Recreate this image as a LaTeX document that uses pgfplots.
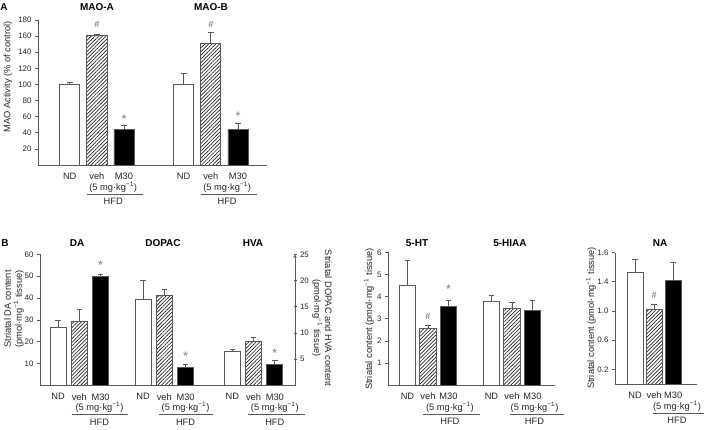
\documentclass[border=0pt]{standalone}
\usepackage{pgfplots}
\pgfplotsset{compat=1.18}
\usepackage{fontspec}
\setmainfont{Liberation Sans}
\usetikzlibrary{patterns.meta}
\definecolor{ink}{gray}{0.15}
\definecolor{edge}{gray}{0.35}
\newcommand{\tk}{\fontsize{7.9}{8}\selectfont}
\newcommand{\lb}{\fontsize{9.3}{11}\selectfont}
\newcommand{\ttl}{\bfseries\fontsize{10}{11}\selectfont}
\newcommand{\dose}{(5 mg·kg\textsuperscript{−1})}
\tikzset{sig/.style={font=\fontsize{9}{9}\selectfont, text=black!60},
         star/.style={font=\fontsize{12.5}{12}\selectfont, text=black!50, yshift=-2.5pt}}
\pgfplotsset{
  panel/.style={
    scale only axis, anchor=south west, clip=false,
    axis x line=bottom, axis y line=left,
    axis line style={-, edge, line width=0.7pt},
    ymin=0,
    ybar, bar width=#1, /pgf/bar shift=0pt,
    tick align=outside, major tick length=3pt,
    ytick style={edge, line width=0.6pt},
    xtick style={draw=none},
    /pgf/number format/assume math mode=true,
    yticklabel style={font=\tk, text=ink},
    xticklabel style={font=\lb, text=ink, yshift=-1.5pt},
    error bars/y dir=plus, error bars/y explicit,
    error bars/error bar style={edge, line width=0.8pt},
    error bars/error mark options={rotate=90, mark size=2.8pt, edge, line width=0.8pt},
  },
  nd/.style={draw=edge, line width=0.8pt, fill=white},
  veh/.style={draw=edge, line width=0.8pt, fill=white,
    postaction={pattern={Lines[angle=45, distance=2.6pt, line width=0.7pt]}, pattern color=black!85}},
  m30/.style={draw=edge, line width=0.8pt, fill=black},
}
\newcommand{\hfd}[3]{%
  \node[font=\lb, text=ink] at ([yshift=-22pt]axis cs:#3,0) {\dose};
  \draw[edge, line width=0.7pt] ([yshift=-29pt]axis cs:#1,0) -- ([yshift=-29pt]axis cs:#2,0);
  \node[font=\lb, text=ink] at ([yshift=-36.5pt]axis cs:#3,0) {HFD};
}
\begin{document}
\begin{tikzpicture}
\path[use as bounding box] (0,0) rectangle (708pt,429pt);

% ---------------- Panel A ----------------
\begin{axis}[panel=0.74, at={(38pt,264pt)}, width=229pt, height=145pt,
  xmin=-1.17, xmax=7.27, ymax=180, ytick={20,40,...,180},
  xtick={0,1,2,4.2,5.2,6.2}, xticklabels={ND,veh,M30,ND,veh,M30}]
\addplot[nd] coordinates {(0,100) +- (0,3) (4.2,100) +- (0,13.5)};
\addplot[veh] coordinates {(1,161) +- (0,1) (5.2,151) +- (0,13)};
\addplot[m30] coordinates {(2,44.5) +- (0,5) (6.2,44) +- (0,8)};
\node[sig] at (axis cs:1,174) {\#};
\node[sig] at (axis cs:5.2,174) {\#};
\node[star] at (axis cs:2,60) {*};
\node[star] at (axis cs:6.2,64) {*};
\hfd{0.65}{2.7}{1.6}
\hfd{4.85}{6.9}{5.8}
\end{axis}
\node[font=\ttl] at (4pt,422pt) {A};
\node[font=\ttl] at (97pt,422pt) {MAO-A};
\node[font=\ttl] at (211pt,422pt) {MAO-B};
\node[font=\lb, text=ink, rotate=90] at (8pt,352pt) {MAO Activity (\% of control)};

% ---------------- Panel B: DA (left axis) ----------------
\begin{axis}[panel=0.75, at={(40pt,43.5pt)}, width=255pt, height=131.2pt,
  xmin=-0.85, xmax=11.15, ymax=60, ytick={10,20,...,60},
  xtick={0,1,2,4,5,6,8.2,9.2,10.2},
  xticklabels={ND,veh,M30,ND,veh,M30,ND,veh,M30}]
\addplot[nd] coordinates {(0,26.6) +- (0,3.0)};
\addplot[veh] coordinates {(1,29.2) +- (0,5.8)};
\addplot[m30] coordinates {(2,49.7) +- (0,1.1)};
\node[star] at (axis cs:2,56) {*};
\hfd{0.64}{3.28}{1.95}
\hfd{4.75}{7.3}{6.0}
\hfd{8.95}{11.6}{10.2}
\end{axis}
% ---------------- Panel B: DOPAC, HVA (right axis) ----------------
\begin{axis}[panel=0.75, at={(40pt,43.5pt)}, width=255pt, height=131.2pt,
  axis x line=none, axis y line=right,
  xmin=-0.85, xmax=11.15, ymax=25, ytick={5,10,...,25}, xtick=\empty]
\addplot[nd] coordinates {(4,16.4) +- (0,3.7) (8.2,6.45) +- (0,0.5)};
\addplot[veh] coordinates {(5,17.1) +- (0,1.2) (9.2,8.35) +- (0,0.85)};
\addplot[m30] coordinates {(6,3.45) +- (0,0.65) (10.2,4.0) +- (0,0.85)};
\node[star] at (axis cs:6,6.0) {*};
\node[star] at (axis cs:10.2,6.6) {*};
\end{axis}
\node[font=\ttl] at (5pt,186pt) {B};
\node[font=\ttl] at (77pt,186pt) {DA};
\node[font=\ttl] at (163pt,186pt) {DOPAC};
\node[font=\ttl] at (253pt,186pt) {HVA};
\node[font=\lb, text=ink, rotate=90, align=center] at (14pt,120pt)
  {Striatal DA content\\(pmol·mg\textsuperscript{−1} tissue)};
\node[font=\lb, text=ink, rotate=-90, align=center] at (322pt,111pt)
  {Striatal DOPAC and HVA content\\(pmol·mg\textsuperscript{−1} tissue)};

% ---------------- Panel 5-HT / 5-HIAA ----------------
\begin{axis}[panel=0.8, at={(388pt,44pt)}, width=167pt, height=132.6pt,
  xmin=-0.95, xmax=7.2, ymax=6, ytick={1,...,6},
  xtick={0,1,2,4.1,5.1,6.1}, xticklabels={ND,veh,M30,ND,veh,M30}]
\addplot[nd] coordinates {(0,4.52) +- (0,1.1) (4.1,3.80) +- (0,0.24)};
\addplot[veh] coordinates {(1,2.56) +- (0,0.15) (5.1,3.47) +- (0,0.27)};
\addplot[m30] coordinates {(2,3.57) +- (0,0.27) (6.1,3.39) +- (0,0.45)};
\node[sig] at (axis cs:1,3.12) {\#};
\node[star] at (axis cs:2,4.45) {*};
\hfd{0.74}{3.54}{2.07}
\hfd{4.98}{7.65}{6.2}
\end{axis}
\node[font=\ttl] at (417pt,186pt) {5-HT};
\node[font=\ttl] at (510pt,186pt) {5-HIAA};
\node[font=\lb, text=ink, rotate=90] at (369pt,110pt)
  {Striatal content (pmol·mg\textsuperscript{−1} tissue)};

% ---------------- Panel NA ----------------
\begin{axis}[panel=0.84, at={(615pt,45pt)}, width=82pt, height=131.5pt,
  xmin=-1.05, xmax=3.25, ymax=1.8, ytick={0.2,0.6,1.0,1.4,1.8},
  yticklabels={0.2,0.6,1.0,1.4,1.6},
  xtick={0,1,2}, xticklabels={ND,veh,M30}]
\addplot[nd] coordinates {(0,1.53) +- (0,0.17)};
\addplot[veh] coordinates {(1,1.02) +- (0,0.07)};
\addplot[m30] coordinates {(2,1.42) +- (0,0.24)};
\node[sig] at (axis cs:1,1.21) {\#};
\hfd{0.95}{3.6}{2.2}
\end{axis}
\node[font=\ttl] at (660pt,186pt) {NA};
\node[font=\lb, text=ink, rotate=90] at (591pt,111pt)
  {Striatal content (pmol·mg\textsuperscript{−1} tissue)};
\end{tikzpicture}
\end{document}
